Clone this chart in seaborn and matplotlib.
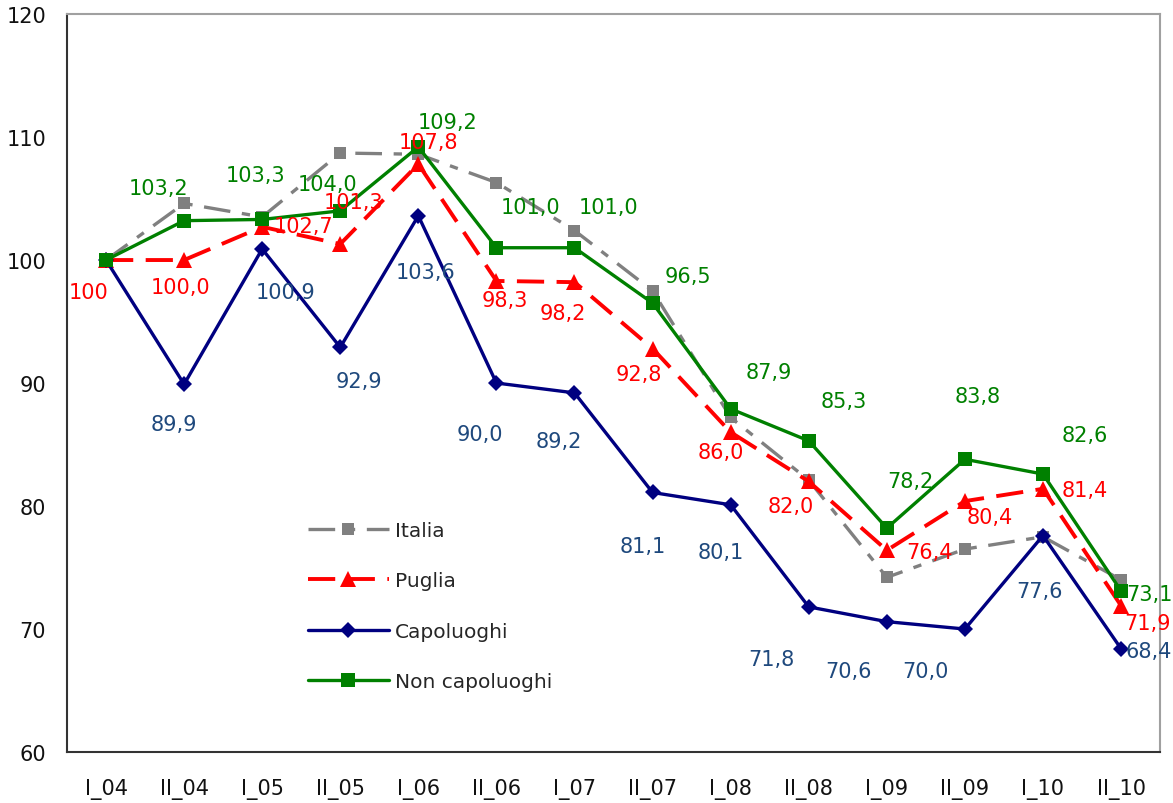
import matplotlib
matplotlib.use("Agg")
import matplotlib.pyplot as plt
import seaborn as sns
import numpy as np
import pandas as pd

# Semesters on the x axis
periods = ["I_04", "II_04", "I_05", "II_05", "I_06", "II_06", "I_07",
           "II_07", "I_08", "II_08", "I_09", "II_09", "I_10", "II_10"]

# Index values (first semester 2004 = 100)
italia = [100, 104.6, 103.5, 108.7, 108.6, 106.3, 102.4,
          97.5, 87.2, 82.1, 74.2, 76.5, 77.5, 74.0]
puglia = [100, 100.0, 102.7, 101.3, 107.8, 98.3, 98.2,
          92.8, 86.0, 82.0, 76.4, 80.4, 81.4, 71.9]
capoluoghi = [100, 89.9, 100.9, 92.9, 103.6, 90.0, 89.2,
              81.1, 80.1, 71.8, 70.6, 70.0, 77.6, 68.4]
non_capoluoghi = [100, 103.2, 103.3, 104.0, 109.2, 101.0, 101.0,
                  96.5, 87.9, 85.3, 78.2, 83.8, 82.6, 73.1]

# Label placement (offset in pixels from each point), None = no label
puglia_off = [(-17, -32), (-4, -27), (41, 1), (13, 42), (10, 22), (8, -19), (-12, -31),
              (-14, -25), (-10, -20), (-18, -25), (43, -2), (25, -16), (42, -1), (26, -17)]
capo_off = [None, (-10, -40), (23, -43), (19, -34), (7, -56), (-17, -51), (-16, -48),
            (-10, -54), (-10, -47), (-37, -52), (-38, -49), (-39, -42), (-3, -55), (28, -2)]
nonc_off = [None, (-26, 33), (-7, 44), (-13, 27), (29, 25), (34, 41), (34, 41),
            (35, 27), (38, 37), (35, 40), (24, 47), (13, 63), (42, 39), (28, -3)]

x = np.arange(len(periods))
df = pd.DataFrame({"pos": x, "Italia": italia, "Puglia": puglia,
                   "Capoluoghi": capoluoghi, "Non capoluoghi": non_capoluoghi})

sns.set_style("white")
plt.rcParams["font.family"] = ["DejaVu Sans"]

fig = plt.figure(figsize=(11.73, 8.04), dpi=100)
ax = fig.add_axes([0.0571, 0.0634, 0.9319, 0.9179])

GREY, RED, NAVY, GREEN = "#808080", "#FF0000", "#000080", "#008000"

sns.lineplot(data=df, x="pos", y="Italia", ax=ax, color=GREY, lw=2.4,
             marker="s", markersize=9, markeredgewidth=0, label="Italia")
ax.lines[-1].set_dashes((8, 3.5, 2.5, 3.5))
sns.lineplot(data=df, x="pos", y="Puglia", ax=ax, color=RED, lw=2.8,
             marker="^", markersize=11, markeredgewidth=0, label="Puglia")
ax.lines[-1].set_dashes((7, 3.2))
sns.lineplot(data=df, x="pos", y="Capoluoghi", ax=ax, color=NAVY, lw=2.4,
             marker="D", markersize=8, markeredgewidth=0, label="Capoluoghi")
sns.lineplot(data=df, x="pos", y="Non capoluoghi", ax=ax, color=GREEN, lw=2.4,
             marker="s", markersize=9.5, markeredgewidth=0, label="Non capoluoghi")


def fmt(v, first=False):
    return "100" if first else f"{v:.1f}".replace(".", ",")


def put_labels(values, offsets, color):
    for i, (v, off) in enumerate(zip(values, offsets)):
        if off is None:
            continue
        ax.annotate(fmt(v, first=(i == 0)), (x[i], v), xytext=off,
                    textcoords="offset pixels", ha="center", va="center",
                    color=color, fontsize=15)


put_labels(puglia, puglia_off, RED)
put_labels(capoluoghi, capo_off, "#1F497D")
put_labels(non_capoluoghi, nonc_off, GREEN)

ax.set_xlim(-0.5, len(periods) - 0.5)
ax.set_ylim(60, 120)
ax.set_yticks(np.arange(60, 121, 10))
ax.set_xticks(np.arange(-0.5, len(periods), 1.0))
ax.set_xticklabels([])
ax.set_xticks(x, minor=True)
ax.set_xticklabels(periods, minor=True)
ax.tick_params(axis="x", which="major", length=6, width=1.2, color="#333333", direction="out")
ax.tick_params(axis="x", which="minor", length=0, pad=19, labelsize=15, labelcolor="#111111")
ax.tick_params(axis="y", length=6, width=1.2, color="#333333", direction="out",
               pad=9, labelsize=15, labelcolor="#111111")
ax.set_xlabel("")
ax.set_ylabel("")

for side in ("left", "bottom"):
    ax.spines[side].set_color("#333333")
    ax.spines[side].set_linewidth(1.5)
for side in ("top", "right"):
    ax.spines[side].set_color("#A0A0A0")
    ax.spines[side].set_linewidth(1.5)

leg = ax.legend(loc="center left", bbox_to_anchor=(298 / 1173, 1 - 607 / 804),
                bbox_transform=fig.transFigure, frameon=False, fontsize=14.5,
                handlelength=4.0, handletextpad=0.3, labelspacing=1.55, borderpad=0)

fig.savefig("out.png", dpi=100)
